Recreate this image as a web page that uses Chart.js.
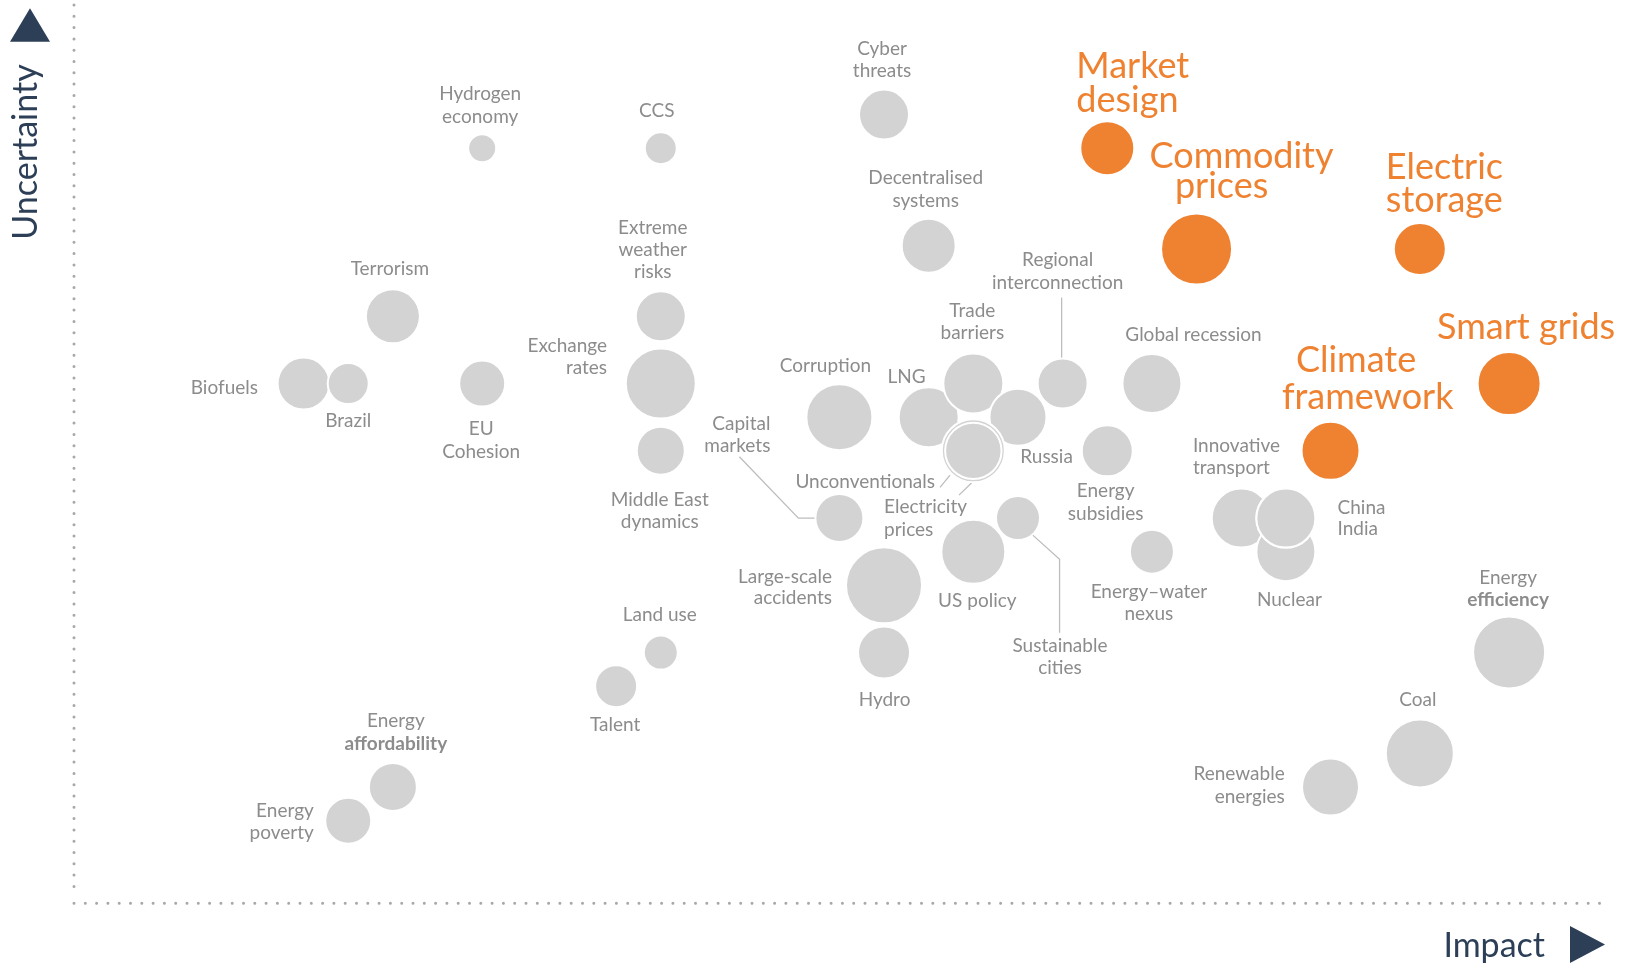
<!DOCTYPE html>
<html><head><meta charset="utf-8">
<script src="https://cdn.jsdelivr.net/npm/chart.js@4"></script>
<style>html,body{margin:0;padding:0;background:#fff;overflow:hidden}canvas{display:block}</style>
</head><body>
<canvas id="c" width="1626" height="963"></canvas>
<script>
// ---- data ----
const topics = ['Hydrogen economy','CCS','Cyber threats','Market design','Decentralised systems','Commodity prices','Electric storage','Terrorism','Extreme weather risks','Biofuels','Brazil','EU Cohesion','Exchange rates','Regional interconnection','Global recession','Smart grids','Corruption','LNG','Trade barriers','Russia','Electricity prices','Unconventionals','Energy subsidies','Climate framework','Middle East dynamics','Capital markets','Sustainable cities','Innovative transport','Nuclear','India','China','US policy','Energy–water nexus','Large-scale accidents','Hydro','Land use','Energy efficiency','Talent','Coal','Energy affordability','Renewable energies','Energy poverty'];
const impact      = [9,13,18,23,19,25,30,7,13,5,6,9,13,22,24,32,17,19,20,21,20,20,23,28,13,17,21,26,27,27,27,20,24,18,18,13,32,12,30,7,28,6];
const uncertainty = [22,22,23,22,19.1,19,19,17,17,15,15,15,15,15,15,15,14,14,15,14,13,13,13,13,13,11,11,11,10,11,11,10,10,9,7,7,7,6,4,3,3,2];
const weight      = [1.3,1.5,2.4,2.6,2.6,3.45,2.5,2.6,2.4,2.5,1.95,2.2,3.4,2.4,2.85,3.05,3.2,2.9,2.9,2.75,3.05,2.72,2.45,2.8,2.3,2.3,2.1,2.85,2.85,2.85,2.85,3.1,2.1,3.7,2.5,1.6,3.5,2.0,3.3,2.3,2.75,2.2];
const criticalIssues = ['Market design','Commodity prices','Electric storage','Smart grids','Climate framework'];
const axisTitles = {x:'Impact', y:'Uncertainty'};

// ---- label layout (offsets from each bubble centre, px) ----
const labelLayout = {
 'Hydrogen economy':{lines:['Hydrogen','economy'],dx:-2,dy:-54},
 'CCS':{lines:['CCS'],dx:-4,dy:-37},
 'Cyber threats':{lines:['Cyber','threats'],dx:-2,dy:-66},
 'Market design':{lines:['Market','design'],dx:-31,dy:-82,align:'left',lh:34},
 'Decentralised systems':{lines:['Decentralised','systems'],dx:-3,dy:-68},
 'Commodity prices':{lines:['Commodity','prices'],lineDx:[45,25],dy:-93,lh:30},
 'Electric storage':{lines:['Electric','storage'],dx:-34,dy:-82,align:'left',lh:33},
 'Terrorism':{lines:['Terrorism'],dx:-3,dy:-47.5},
 'Extreme weather risks':{lines:['Extreme','weather','risks'],dx:-8,dy:-88.3,lh:22},
 'Biofuels':{lines:['Biofuels'],dx:-45.6,dy:4.7,align:'right'},
 'Brazil':{lines:['Brazil'],dx:0,dy:37},
 'EU Cohesion':{lines:['EU','Cohesion'],dx:-1,dy:45.3},
 'Exchange rates':{lines:['Exchange','rates'],dx:-53.7,dy:-37.3,align:'right',lh:22},
 'Regional interconnection':{lines:['Regional','interconnection'],dx:-5,dy:-123.7,leader:[[-1,-86],[-1,-24]]},
 'Global recession':{lines:['Global recession'],dx:41.6,dy:-49},
 'Smart grids':{lines:['Smart grids'],dx:17,dy:-56},
 'Corruption':{lines:['Corruption'],dx:-14,dy:-51},
 'LNG':{lines:['LNG'],dx:-22,dy:-40.3},
 'Trade barriers':{lines:['Trade','barriers'],dx:-1,dy:-73},
 'Russia':{lines:['Russia'],dx:28.6,dy:39.7},
 'Electricity prices':{lines:['Electricity','prices'],dx:-89.3,dy:56,align:'left',lh:23.3,leader:[[-14.3,44.3],[-1.6,32]]},
 'Unconventionals':{lines:['Unconventionals'],dx:-38.3,dy:31,align:'right',leader:[[-33.3,36.6],[-23.3,24.3]]},
 'Energy subsidies':{lines:['Energy','subsidies'],dx:-1.6,dy:40},
 'Climate framework':{lines:['Climate','framework'],lineDx:[25.5,37.2],dy:-90.3,lh:36.6},
 'Middle East dynamics':{lines:['Middle East','dynamics'],dx:-1,dy:49,lh:22},
 'Capital markets':{lines:['Capital','markets'],dx:-69,dy:-94.7,align:'right',leader:[[-100,-61.4],[-41,0],[-23,0]]},
 'Sustainable cities':{lines:['Sustainable','cities'],dx:42,dy:127.3,leader:[[14,16.3],[41.6,41.3],[41.6,114.6]]},
 'Innovative transport':{lines:['Innovative','transport'],dx:-48.3,dy:-72.3,align:'left',lh:22.3},
 'China':{lines:['China'],dx:51.7,dy:-10,align:'left'},
 'India':{lines:['India'],dx:51.7,dy:11,align:'left'},
 'US policy':{lines:['US policy'],dx:4,dy:48.7},
 'Energy–water nexus':{lines:['Energy–water','nexus'],dx:-3,dy:39.7},
 'Nuclear':{lines:['Nuclear'],dx:3.5,dy:48.5},
 'Large-scale accidents':{lines:['Large-scale','accidents'],dx:-52,dy:-8.6,align:'right',lh:21.5},
 'Hydro':{lines:['Hydro'],dx:0.5,dy:47.3},
 'Land use':{lines:['Land use'],dx:-1,dy:-37.7},
 'Energy efficiency':{lines:['Energy','efficiency'],dx:-1,dy:-74.4,lh:21.7,bold:1},
 'Talent':{lines:['Talent'],dx:-1,dy:39},
 'Coal':{lines:['Coal'],dx:-2,dy:-54},
 'Energy affordability':{lines:['Energy','affordability'],dx:3,dy:-66.6,lh:23.3,bold:1},
 'Renewable energies':{lines:['Renewable','energies'],dx:-45.8,dy:-13.3,align:'right'},
 'Energy poverty':{lines:['Energy','poverty'],dx:-34.4,dy:-9.7,align:'right',lh:22.3}
};

const GREY='#d3d3d3', ORANGE='#ee8231', TEXT='#8c8c8c', NAVY='#2c3f57', FONT='Lato, "Open Sans", sans-serif';
const RADIUS_PER_WEIGHT = 10;

const points = topics.map((t,i)=>({x:impact[i], y:uncertainty[i], r:weight[i]*RADIUS_PER_WEIGHT+1}));

const decor = {
  id:'decor',
  beforeDatasetsDraw(chart){
    const ctx = chart.ctx, ca = chart.chartArea, meta = chart.getDatasetMeta(0);
    ctx.save();
    ctx.strokeStyle='#a8a8a8'; ctx.lineWidth=3; ctx.lineCap='round'; ctx.setLineDash([0,11.3]);
    ctx.beginPath(); ctx.moveTo(ca.left, ca.top); ctx.lineTo(ca.left, ca.bottom-10); ctx.stroke();
    ctx.beginPath(); ctx.moveTo(ca.left, ca.bottom); ctx.lineTo(ca.right, ca.bottom); ctx.stroke();
    ctx.setLineDash([]);
    ctx.strokeStyle='#bdbdbd'; ctx.lineWidth=1.3; ctx.lineCap='butt';
    topics.forEach((t,i)=>{
      const L = labelLayout[t]; if(!L || !L.leader) return;
      const el = meta.data[i];
      ctx.beginPath();
      L.leader.forEach((p,k)=>{ const X=el.x+p[0], Y=el.y+p[1]; k?ctx.lineTo(X,Y):ctx.moveTo(X,Y); });
      ctx.stroke();
    });
    ctx.restore();
  },
  afterDatasetsDraw(chart){
    const ctx = chart.ctx, ca = chart.chartArea, meta = chart.getDatasetMeta(0);
    ctx.save();
    ctx.textBaseline='middle';
    topics.forEach((t,i)=>{
      const L = labelLayout[t]; if(!L) return;
      const el = meta.data[i];
      const big = criticalIssues.includes(t);
      const size = big?36:19;
      const lh = L.lh || (big?33:22.7);
      ctx.textAlign = L.align || 'center';
      L.lines.forEach((line,k)=>{
        const bold = L.bold===k;
        ctx.font = (bold?'bold ':'')+size+'px '+FONT;
        ctx.fillStyle = big?ORANGE:TEXT;
        const dx = L.lineDx?L.lineDx[k]:L.dx;
        ctx.fillText(line, el.x+dx, el.y+L.dy+k*lh);
      });
    });
    ctx.fillStyle=NAVY;
    ctx.beginPath(); ctx.moveTo(ca.left-44,8.3); ctx.lineTo(ca.left-24,41.7); ctx.lineTo(ca.left-64,41.7); ctx.closePath(); ctx.fill();
    ctx.beginPath(); ctx.moveTo(ca.right-1,944.5); ctx.lineTo(ca.right-36,926); ctx.lineTo(ca.right-36,963); ctx.closePath(); ctx.fill();
    ctx.font='34px '+FONT; ctx.textBaseline='alphabetic';
    ctx.textAlign='right'; ctx.fillText(axisTitles.x, ca.right-61, 957);
    ctx.translate(37,152); ctx.rotate(-Math.PI/2); ctx.textAlign='center'; ctx.fillText(axisTitles.y,0,0);
    ctx.restore();
  }
};

new Chart(document.getElementById('c'), {
  type:'bubble',
  data:{ labels:topics, datasets:[{ data:points,
    backgroundColor:c=>criticalIssues.includes(topics[c.dataIndex])?ORANGE:GREY,
    borderColor:'#ffffff', borderWidth:2, hoverRadius:0, clip:false }]},
  options:{
    responsive:false, devicePixelRatio:1, animation:false, events:[],
    layout:{autoPadding:false, padding:{left:74, top:5, right:20, bottom:59.7}},
    scales:{
      x:{type:'linear', min:-0.142, max:34.17, display:false},
      y:{type:'linear', min:-0.457, max:26.26, display:false}
    },
    plugins:{legend:{display:false}, tooltip:{enabled:false}}
  },
  plugins:[decor]
});
</script></body></html>
